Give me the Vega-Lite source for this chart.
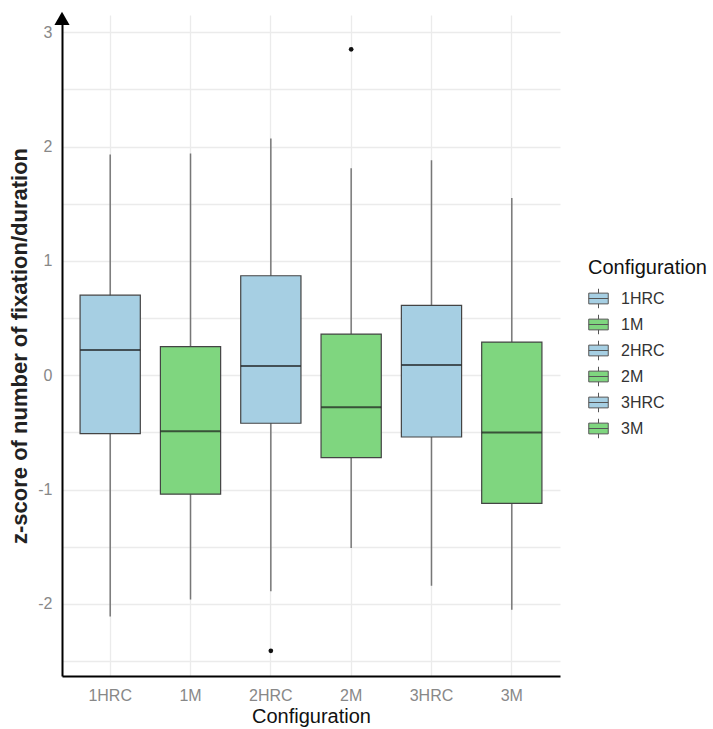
{
  "$schema": "https://vega.github.io/schema/vega-lite/v6.json",
  "width": 498,
  "height": 661,
  "autosize": "none",
  "padding": {"left": 62, "top": 15, "right": 153, "bottom": 53},
  "background": "white",
  "config": {
    "font": "Liberation Sans",
    "view": {"stroke": null}
  },
  "data": {
    "values": [
      {"Configuration": "1HRC", "lower": -2.11, "q1": -0.51, "median": 0.22, "q3": 0.70, "upper": 1.93},
      {"Configuration": "1M", "lower": -1.96, "q1": -1.04, "median": -0.49, "q3": 0.25, "upper": 1.94},
      {"Configuration": "2HRC", "lower": -1.89, "q1": -0.42, "median": 0.08, "q3": 0.87, "upper": 2.07},
      {"Configuration": "2M", "lower": -1.51, "q1": -0.72, "median": -0.28, "q3": 0.36, "upper": 1.81},
      {"Configuration": "3HRC", "lower": -1.84, "q1": -0.54, "median": 0.09, "q3": 0.61, "upper": 1.88},
      {"Configuration": "3M", "lower": -2.05, "q1": -1.12, "median": -0.50, "q3": 0.29, "upper": 1.55}
    ]
  },
  "resolve": {"scale": {"x": "independent"}, "axis": {"x": "independent"}},
  "layer": [
    {
      "encoding": {
        "x": {
          "field": "Configuration",
          "type": "nominal",
          "sort": ["1HRC", "1M", "2HRC", "2M", "3HRC", "3M"],
          "scale": {"type": "band", "paddingInner": 0, "paddingOuter": 0.1},
          "axis": {
            "title": "Configuration",
            "titleFontSize": 20,
            "titleFontWeight": "normal",
            "titleColor": "#111",
            "titlePadding": 3,
            "labelAngle": 0,
            "labelFontSize": 16,
            "labelColor": "#888",
            "labelPadding": 11,
            "ticks": false,
            "domainColor": "black",
            "domainWidth": 2,
            "grid": true,
            "gridColor": "#ebebeb",
            "gridWidth": 1.3
          }
        },
        "y": {
          "type": "quantitative",
          "scale": {"domain": [-2.63, 3.15], "nice": false, "zero": false},
          "axis": {
            "title": "z-score of number of fixation/duration",
            "titleFontSize": 22,
            "titleFontWeight": "bold",
            "titleColor": "#222",
            "titlePadding": 6,
            "values": [-2.5, -2, -1.5, -1, -0.5, 0, 0.5, 1, 1.5, 2, 2.5, 3],
            "labelExpr": "datum.value % 1 == 0 ? '' + datum.value : ''",
            "labelFontSize": 16,
            "labelColor": "#888",
            "labelPadding": 10,
            "ticks": false,
            "domainColor": "black",
            "domainWidth": 2,
            "grid": true,
            "gridColor": "#ebebeb",
            "gridWidth": 1.3
          }
        }
      },
      "layer": [
        {
          "mark": {"type": "rule", "color": "#777", "strokeWidth": 1.5},
          "encoding": {
            "y": {"field": "lower", "type": "quantitative"},
            "y2": {"field": "upper"}
          }
        },
        {
          "mark": {"type": "bar", "width": {"band": 0.75}, "stroke": "#444", "strokeWidth": 1.2},
          "encoding": {
            "y": {"field": "q1", "type": "quantitative"},
            "y2": {"field": "q3"},
            "color": {
              "field": "Configuration",
              "type": "nominal",
              "scale": {
                "domain": ["1HRC", "1M", "2HRC", "2M", "3HRC", "3M"],
                "range": ["#a6cfe3", "#7fd67f", "#a6cfe3", "#7fd67f", "#a6cfe3", "#7fd67f"]
              },
              "legend": {
                "title": "Configuration",
                "orient": "none",
                "legendX": 526,
                "legendY": 243,
                "titleFontSize": 20,
                "titleFontWeight": "normal",
                "titleColor": "#111",
                "titlePadding": 10,
                "labelFontSize": 16,
                "labelColor": "#333",
                "labelOffset": 12,
                "rowPadding": 1,
                "symbolType": "M-1,-0.55H1V0.55H-1Z M-1,0H1 M0,-0.55V-1 M0,0.55V1",
                "symbolSize": 380,
                "symbolStrokeColor": "#555",
                "symbolStrokeWidth": 1
              }
            }
          }
        },
        {
          "mark": {"type": "tick", "size": 60, "thickness": 2, "color": "#1a1a1a"},
          "encoding": {
            "y": {"field": "median", "type": "quantitative"}
          }
        },
        {
          "data": {
            "values": [
              {"Configuration": "2HRC", "value": -2.41},
              {"Configuration": "2M", "value": 2.85}
            ]
          },
          "mark": {"type": "point", "filled": true, "color": "#111", "size": 22, "opacity": 1},
          "encoding": {
            "y": {"field": "value", "type": "quantitative"}
          }
        }
      ]
    },
    {
      "data": {"values": [{"ax": 0, "ay": 3.12}]},
      "mark": {"type": "point", "shape": "triangle-up", "filled": true, "color": "black", "size": 230, "opacity": 1},
      "encoding": {
        "x": {"field": "ax", "type": "quantitative", "scale": {"domain": [0, 1]}, "axis": null},
        "y": {"field": "ay", "type": "quantitative"}
      }
    }
  ]
}
